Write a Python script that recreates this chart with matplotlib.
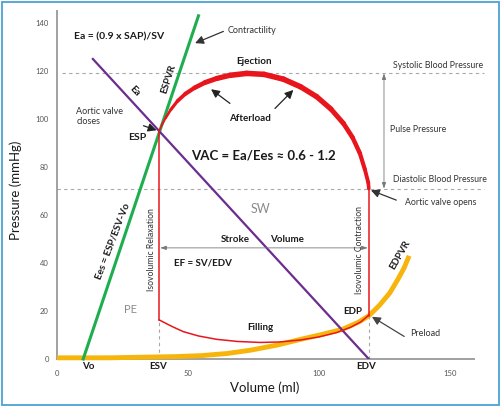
import matplotlib
matplotlib.use("Agg")
import matplotlib.pyplot as plt
import numpy as np
from matplotlib.collections import LineCollection
from matplotlib.patches import Rectangle

plt.rcParams['font.family'] = ['Lato', 'DejaVu Sans']

# ---- data ----
vo = 10
esv = 39
edv = 119
esp = 95
sbp = 119
dbp = 71
edp = 18
esv_low = 16.3

espvr_vol = [10, 54]
espvr_p = [0, 143]

ea_vol = [13.7, 119]
ea_p = [125, 0]

ejection_vol = [39, 40.0, 41.5, 43.5, 46, 49, 52.5, 56.5, 61, 66, 72.4, 79, 86.4,
                93, 99.1, 104.5, 109.3, 112.8, 115.6, 117.5, 118.8, 119]
ejection_p = [95, 97.5, 100.5, 104.0, 107.5, 110.5, 113.0, 115.2, 116.9, 118.2,
              119.0, 118.6, 116.6, 113.4, 109.3, 104.2, 98.2, 92.3, 85.7, 79.0, 73.5, 71]
ejection_w = [1.2, 1.5, 1.9, 2.3, 2.7, 3.0, 3.3, 3.6, 3.8, 4.0, 4.0, 4.0, 4.0, 3.9,
              3.8, 3.6, 3.4, 3.2, 3.0, 2.8, 2.6]

filling_vol = [39, 42, 44, 48.2, 54, 60.9, 69, 77.5, 85, 92.7, 100, 106.7, 112, 116, 119]
filling_p = [16.3, 14.6, 13.5, 11.4, 9.6, 8.2, 7.3, 6.9, 7.1, 7.9, 9.2, 11.0, 13.2, 15.5, 18.3]

edpvr_vol = [0, 20, 35, 45, 55, 65, 74, 84, 93, 101, 109, 115, 119, 123, 127, 130, 132.5, 134.4]
edpvr_p = [0.5, 0.5, 0.8, 1.0, 1.4, 2.3, 3.7, 5.8, 8.2, 10.2, 12.4, 15.3, 18.0, 22.3, 27.5, 33, 38, 43]

xticks = [0, 50, 100, 150]
yticks = [0, 20, 40, 60, 80, 100, 120, 140]

# ---- figure ----
W, H = 501, 408
fig = plt.figure(figsize=(W / 100, H / 100), dpi=100)
ax = fig.add_axes([57 / W, (H - 359) / H, 416.6 / W, 348 / H])
ax.set_xlim(0, 159)
ax.set_ylim(0, 145)
for s in ['top', 'right']:
    ax.spines[s].set_visible(False)
for s in ['left', 'bottom']:
    ax.spines[s].set_color('#a0a0a0')
    ax.spines[s].set_linewidth(1.4)
ax.set_xticks(xticks)
ax.set_yticks(yticks)
ax.tick_params(length=0, labelsize=5.5, labelcolor='#555555')
ax.tick_params(axis='x', pad=8)
ax.tick_params(axis='y', pad=6)

gray_dash = dict(color='#a8a8a8', lw=0.8, ls=(0, (3, 3)), clip_on=False)
ax.plot([2, 163], [sbp, sbp], **gray_dash)
ax.plot([0, 163], [dbp, dbp], **gray_dash)
ax.plot([esv, esv], [0, esv_low], **gray_dash)
ax.plot([edv, edv], [0, edp], **gray_dash)

# EDPVR (yellow)
ax.plot(edpvr_vol, edpvr_p, color='#f7b50c', lw=3.5, solid_capstyle='butt', zorder=3, clip_on=False)
# ESPVR (green)
ax.plot(espvr_vol, espvr_p, color='#1fae4f', lw=2.2, zorder=4, clip_on=False)
# Ea (purple)
ax.plot(ea_vol, ea_p, color='#6b2d8f', lw=1.6, zorder=4)

# PV loop
red = '#e8161c'
ax.plot([esv, esv], [esv_low, esp], color=red, lw=1.1, zorder=5)
ax.plot([edv, edv], [edp, dbp], color=red, lw=1.1, zorder=5)
ax.plot(filling_vol, filling_p, color=red, lw=1.1, zorder=5)
pts = np.column_stack([ejection_vol, ejection_p])
segs = np.stack([pts[:-1], pts[1:]], axis=1)
lc = LineCollection(segs, linewidths=ejection_w, colors=red, capstyle='round',
                    joinstyle='round', zorder=5)
ax.add_collection(lc)

# arrows
def arrow(x0, y0, x1, y1, color='#222222', lw=0.9, hw=0.25):
    ax.annotate('', xy=(x1, y1), xytext=(x0, y0),
                arrowprops=dict(arrowstyle='-|>,head_length=0.5,head_width=%s' % hw,
                                color=color, lw=lw, shrinkA=0, shrinkB=0),
                annotation_clip=False, zorder=6)

def darrow(x0, y0, x1, y1):
    ax.annotate('', xy=(x1, y1), xytext=(x0, y0),
                arrowprops=dict(arrowstyle='<|-|>,head_length=0.35,head_width=0.12',
                                color='#777777', lw=0.6, shrinkA=0, shrinkB=0),
                annotation_clip=False, zorder=6)

arrow(63.5, 136.5, 52.7, 131.6, color='#333333')      # contractility
arrow(33.0, 97.2, 38.0, 95.3)                         # aortic valve closes
arrow(66.0, 106.5, 58.8, 112.4)                       # afterload left
arrow(83.2, 104.4, 90.2, 112.1)                       # afterload right
arrow(129.5, 66.2, 119.8, 70.3, color='#333333')      # aortic valve opens
arrow(132.5, 9.4, 120.2, 17.6, color='#444444')       # preload
darrow(124.8, sbp, 124.8, dbp)                        # pulse pressure
darrow(esv + 0.4, 46.3, edv - 0.4, 46.3)              # stroke volume

# texts
def t(x, y, s, size=7, bold=False, color='#1a1a1a', ha='center', va='center', rot=0):
    ax.text(x, y, s, fontsize=size, fontweight='bold' if bold else 'normal', color=color,
            ha=ha, va=va, rotation=rot, rotation_mode='anchor', clip_on=False, zorder=7)

t(6.5, 134, 'Ea = (0.9 x SAP)/SV', size=7.5, bold=True, ha='left')
t(65, 137, 'Contractility', size=6.5, ha='left', color='#333333')
t(42.5, 116.5, 'ESPVR', size=7, bold=True, rot=72)
t(29.5, 111.5, 'Ea', size=7, bold=True, rot=-47)
t(7.3, 101, 'Aortic valve\ncloses', size=6.5, ha='left', color='#333333')
t(30.5, 92.3, 'ESP', size=7.5, bold=True)
t(75, 123.8, 'Ejection', size=7, bold=True)
t(73.7, 100.3, 'Afterload', size=7, bold=True)
t(78.7, 85, 'VAC = Ea/Ees ≈ 0.6 - 1.2', size=9.5, bold=True)
t(128.4, 122.2, 'Systolic Blood Pressure', size=6.3, ha='left', color='#333333')
t(127.1, 95.7, 'Pulse Pressure', size=6.3, ha='left', color='#333333')
t(128.4, 75, 'Diastolic Blood Pressure', size=6.3, ha='left', color='#333333')
t(132.8, 65.1, 'Aortic valve opens', size=6.3, ha='left', color='#333333')
t(77.5, 62.4, 'SW', size=9, color='#8a8a8a')
t(68, 49.6, 'Stroke', size=7, bold=True)
t(87.7, 49.6, 'Volume', size=7, bold=True)
t(55.7, 39.9, 'EF = SV/EDV', size=7, bold=True)
t(35.9, 45.4, 'Isovolumic Relaxation', size=6.2, rot=90, color='#333333')
t(115.4, 45.4, 'Isovolumic Contraction', size=6.2, rot=90, color='#333333')
t(21.4, 49, 'Ees = ESP/ESV-Vo', size=7, bold=True, rot=69)
t(27.9, 20.8, 'PE', size=8, color='#8a8a8a')
t(77.5, 13, 'Filling', size=7, bold=True)
t(113, 20, 'EDP', size=7, bold=True)
t(134.7, 10.7, 'Preload', size=6.5, ha='left', color='#333333')
t(130.9, 43.3, 'EDPVR', size=7, bold=True, rot=60)
t(12, -3.2, 'Vo', size=7, bold=True)
t(38.6, -3.2, 'ESV', size=7, bold=True)
t(118, -3.2, 'EDV', size=7, bold=True)

fig.text(16 / W, 1 - 190 / H, 'Pressure (mmHg)', fontsize=9.5, rotation=90,
         ha='center', va='center', color='#1a1a1a')
fig.text(265 / W, 1 - 388 / H, 'Volume (ml)', fontsize=9.5,
         ha='center', va='center', color='#1a1a1a')

fig.add_artist(Rectangle((1.5 / W, 3 / H), 497 / W, 403.5 / H, transform=fig.transFigure,
                         fill=False, edgecolor='#4aa3d5', lw=1.3))

fig.savefig('out.png', dpi=100)
